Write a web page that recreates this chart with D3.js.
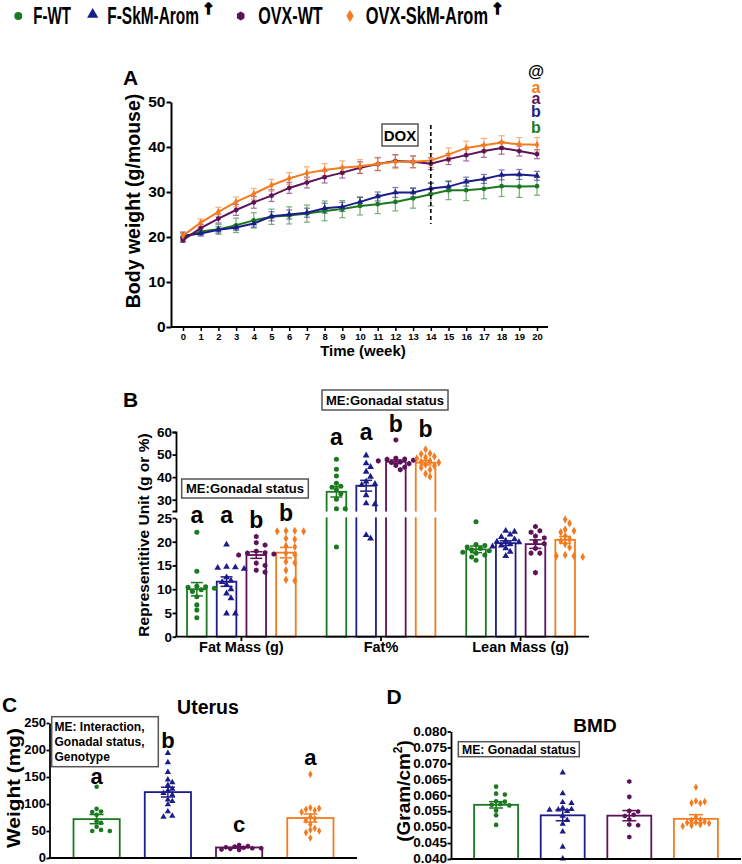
<!DOCTYPE html>
<html><head><meta charset="utf-8">
<script src="https://cdn.jsdelivr.net/npm/d3@7"></script>
<style>
body{margin:0;background:#fff}
svg text{font-family:"Liberation Sans",Arial,sans-serif;font-weight:bold}
</style></head><body>
<svg id="fig" width="742" height="864"></svg>
<script>
// ---------------- DATA ----------------
const groups = ["F-WT","F-SkM-Arom","OVX-WT","OVX-SkM-Arom"];
const colors = ["#1b7a1f","#1d1d8a","#5e1259","#f47b20"];

// Panel A: body weight (g/mouse) by week
const weeks = [0,1,2,3,4,5,6,7,8,9,10,11,12,13,14,15,16,17,18,19,20];
const bwFWT    = [19.9,21.2,21.7,22.6,23.7,24.5,24.8,25.2,25.8,26.2,26.9,27.3,27.8,28.6,29.5,30.4,30.4,30.7,31.3,31.2,31.3];
const bwFSkM   = [20.3,20.8,21.6,22.1,23.0,24.6,25.0,25.4,26.4,26.7,27.8,29.0,29.9,29.9,30.8,31.2,32.3,32.9,33.8,33.9,33.6];
const bwOVXWT  = [19.3,22.0,24.1,26.0,27.7,29.2,30.9,32.1,33.3,34.3,35.4,36.2,36.9,36.7,36.3,37.3,38.2,39.1,39.8,39.1,38.4];
const bwOVXSkM = [20.3,23.2,25.6,27.8,29.6,31.5,33.0,34.2,34.9,35.4,35.7,36.2,36.7,36.7,37.0,38.3,39.8,40.4,41.0,40.6,40.5];
const semFWT    = [0.8,0.7,1.1,1.6,1.7,1.7,1.9,1.9,2.2,1.9,2.0,2.1,2.0,2.2,2.6,2.1,2.3,2.2,2.3,2.4,2.0];
const semFSkM   = [0.8,0.6,0.7,0.6,0.8,1.0,1.0,1.0,1.1,1.0,1.0,1.0,1.1,1.0,1.1,1.1,1.0,1.0,1.1,1.1,1.0];
const semOVXWT  = [0.5,0.8,1.0,1.2,1.3,1.3,1.2,1.2,1.3,1.2,1.3,1.4,1.4,1.3,1.3,1.2,1.3,1.4,1.4,1.1,1.0];
const semOVXSkM = [0.6,0.8,1.0,1.1,1.2,1.3,1.3,1.4,1.4,1.5,1.5,1.5,1.5,1.3,1.5,1.5,1.5,1.5,1.5,1.5,1.6];
const yTicksA = [0,10,20,30,40,50];
const lettersA = ["@","a","a","b","b"];
const lettersAColor = ["#000",colors[3],colors[2],colors[1],colors[0]];
const doxWeek = 14;

// Panel B: body composition
const catsB = ["Fat Mass (g)","Fat%","Lean Mass (g)"];
const fatMassMean = [10.0,11.6,17.2,17.7];
const fatMassSEM  = [1.4,1.0,0.7,1.1];
const fatMassPts = [
  [22.0,13.8,10.5,10.4,10.2,9.9,9.5,8.4,6.7,5.6,4.0,10.6],
  [19.4,14.7,14.6,14.5,14.3,12.5,11.8,11.5,10.9,10.0,9.1,8.1,4.9,4.9],
  [21.1,19.8,19.3,18.0,17.7,17.6,17.4,17.2,15.5,15.0,14.0,13.6],
  [22.3,22.3,22.2,22.2,20.7,20.5,19.1,18.9,17.6,17.3,15.8,15.6,14.0,12.0,11.8]
];
const fatPctMean = [33.5,36.2,46.8,46.4];
const fatPctSEM  = [2.3,2.4,0.8,1.0];
const fatPctPts = [
  [47.9,43.5,40.5,37.3,36.0,35.5,34.4,32.6,30.2,26.0,26.0,18.9],
  [49.6,46.1,44.5,42.4,40.2,38.0,37.0,36.5,32.0,28.4,28.0,21.4,20.7],
  [56.5,48.4,48.0,47.9,47.5,47.2,46.8,46.5,46.0,45.2,44.4,43.3],
  [52.3,50.5,50.2,49.2,48.7,48.3,47.2,46.8,46.5,45.6,45.0,44.2,43.3,41.5,40.2]
];
const leanMean = [18.4,19.7,19.5,20.4];
const leanSEM  = [0.7,0.5,0.9,0.7];
const leanPts = [
  [24.2,19.4,19.2,18.9,18.6,18.3,18.1,17.8,17.6,17.2,16.8,16.1],
  [22.3,22.1,21.5,21.0,20.5,20.2,20.0,19.9,19.5,19.2,19.0,18.6,17.9,17.0],
  [23.2,22.3,22.0,21.2,20.8,20.0,19.6,18.6,17.6,17.6,13.5],
  [24.7,23.9,22.6,22.3,22.0,21.2,20.5,20.2,19.5,18.8,17.2,17.0,17.0,16.8]
];
const yTicksBlow = [0,5,10,15,20,25];
const yTicksBhigh = [30,40,50,60];
const lettersFatMass = ["a","a","b","b"];
const lettersFatPct  = ["a","a","b","b"];

// Panel C: uterus weight (mg)
const uterusMean = [72,122,19.5,74];
const uterusSEM  = [8.5,9,1.2,7.5];
const uterusPts = [
  [132,91,86,85,80,68,65,58,52,50,50],
  [194,177,159,145,140,135,128,125,120,117,108,105,99,86,78,76],
  [24,22,21,20,19,18,18,17,16,15],
  [155,93,92,90,88,85,76,73,70,62,55,52,50,47,37]
];
const yTicksC = [0,50,100,150,200,250];
const lettersC = ["a","b","c","a"];

// Panel D: BMD (g/cm2)
const bmdMean = [0.0570,0.0537,0.0536,0.0526];
const bmdSEM  = [0.0010,0.0017,0.0016,0.0013];
const bmdPts = [
  [0.0627,0.0605,0.0602,0.0581,0.0580,0.0572,0.0570,0.0568,0.0552,0.0537,0.0507],
  [0.0671,0.0606,0.0578,0.0575,0.0560,0.0556,0.0555,0.0554,0.0550,0.0535,0.0522,0.0510,0.0486,0.0438,0.0401],
  [0.0643,0.0595,0.0551,0.0549,0.0539,0.0535,0.0524,0.0508,0.0506,0.0469],
  [0.0625,0.0582,0.0580,0.0576,0.0575,0.0532,0.0523,0.0521,0.0517,0.0515,0.0514,0.0512,0.0508,0.0505,0.0503]
];
const yTicksD = [0.040,0.045,0.050,0.055,0.060,0.065,0.070,0.075,0.080];

// ---------------- HELPERS ----------------
const svg = d3.select("#fig");
const symHex = {draw(ctx,size){const r=Math.sqrt(size/2.598);for(let i=0;i<6;i++){const a=Math.PI/3*i+Math.PI/6;const x=r*Math.cos(a),y=r*Math.sin(a);i?ctx.lineTo(x,y):ctx.moveTo(x,y);}ctx.closePath();}};
const symbols = [d3.symbolCircle,d3.symbolTriangle,symHex,d3.symbolDiamond];
const sym = (i,size)=>d3.symbol().type(symbols[i]).size(size)();

function styleAxis(g, fs, sw){
  g.selectAll("path,line").attr("stroke","#000").attr("stroke-width",sw);
  g.selectAll("text").attr("font-size",fs).attr("font-family",'"Liberation Sans",Arial,sans-serif').attr("font-weight","bold").attr("fill","#000");
}
function txt(g,x,y,s,fs,anchor,opts={}){
  const t=g.append("text").attr("x",x).attr("y",y).attr("font-size",fs).attr("text-anchor",anchor||"start")
    .attr("fill",opts.fill||"#000").text(s);
  if(opts.len) t.attr("textLength",opts.len).attr("lengthAdjust","spacingAndGlyphs");
  return t;
}
function swarm(values, ys, r, step){
  const pts = values.map(v=>({v,y:ys(v)})).sort((a,b)=>a.y-b.y);
  const placed=[];
  for(const p of pts){
    for(let k=0;k<30;k++){
      const c = k===0?0:(k%2?1:-1)*Math.ceil(k/2)*step;
      if(placed.every(q=>Math.hypot(q.dx-c,q.y-p.y)>=2*r)){p.dx=c;break;}
    }
    placed.push(p);
  }
  return placed;
}
function box(g,x0,y0,x1,y1){
  g.append("rect").attr("x",x0).attr("y",y0).attr("width",x1-x0).attr("height",y1-y0)
   .attr("fill","#fff").attr("stroke","#555").attr("stroke-width",1.5);
}
function drawBars(g, xLeft, bw, means, ys, base){
  means.forEach((m,i)=>{
    const x0 = xLeft(i);
    g.append("rect").attr("x",x0).attr("y",ys(m)).attr("width",bw).attr("height",ys(base)-ys(m))
      .attr("fill","#fff").attr("stroke",colors[i]).attr("stroke-width",1.8);
  });
}
function drawDots(g, xLeft, bw, means, sems, pts, ys, capW, r, step, dotSize){
  means.forEach((m,i)=>{
    const cx = xLeft(i)+bw/2;
    const sw = swarm(pts[i], ys, r, step);
    g.append("g").selectAll("path").data(sw).join("path")
      .attr("d",sym(i,dotSize)).attr("fill",colors[i])
      .attr("transform",d=>`translate(${cx+d.dx},${d.y})`);
    const eb = g.append("g").attr("stroke",colors[i]).attr("stroke-width",1.5);
    const y1=ys(m-sems[i]), y2=ys(m+sems[i]);
    eb.append("line").attr("x1",cx).attr("x2",cx).attr("y1",y1).attr("y2",y2);
    [y1,y2].forEach(y=>eb.append("line").attr("x1",cx-capW/2).attr("x2",cx+capW/2).attr("y1",y).attr("y2",y));
  });
}

// ---------------- LEGEND ----------------
const legMarkX=[18.3,92.7,240.7,350], legTextX=[33.3,107.3,258.3,365.7], legTextW=[37.7,91.7,64.4,122.3];
const legSize=[50,55,50,45];
groups.forEach((gname,i)=>{
  svg.append("path").attr("d",sym(i,legSize[i])).attr("fill",colors[i]).attr("transform",`translate(${legMarkX[i]},${i===1?14.5:16})`);
  txt(svg,legTextX[i],24,gname,23,"start",{len:legTextW[i]});
  if(i%2===1){
    svg.append("text").attr("x",legTextX[i]+legTextW[i]+9.5).attr("y",14).attr("text-anchor","middle")
      .attr("font-size",15).attr("fill","#000").attr("style",'font-family:"DejaVu Sans";font-weight:bold')
      .attr("stroke","#000").attr("stroke-width",1.3).text("↑");
  }
});

// ---------------- PANEL A ----------------
const gA = svg.append("g");
txt(gA,123,85,"A",21);
const xA = d3.scaleLinear().domain([0,20]).range([183,537]);
const yA = d3.scaleLinear().domain([0,50]).range([327,102]);
const axYA = gA.append("g").attr("transform","translate(171,0)")
  .call(d3.axisLeft(yA).tickValues(yTicksA).tickSize(4.5).tickPadding(1).tickSizeOuter(0));
styleAxis(axYA,15.5,2);
const axXA = gA.append("g").attr("transform","translate(0,327)")
  .call(d3.axisBottom(xA).tickValues(weeks).tickSize(4).tickPadding(2).tickSizeOuter(0));
axXA.select(".domain").remove();
styleAxis(axXA,9.5,1.5);
gA.append("line").attr("x1",171).attr("x2",548).attr("y1",327).attr("y2",327).attr("stroke","#000").attr("stroke-width",2);
txt(gA,363,356,"Time (week)",15,"middle");
gA.append("text").attr("transform","translate(140,201) rotate(-90)").attr("text-anchor","middle").attr("font-size",19.5).attr("fill","#000").text("Body weight (g/mouse)");

const seriesA=[bwFWT,bwFSkM,bwOVXWT,bwOVXSkM], semA=[semFWT,semFSkM,semOVXWT,semOVXSkM];
seriesA.forEach((s,i)=>{
  const g=gA.append("g").attr("stroke",colors[i]).attr("stroke-width",1.2).attr("opacity",0.6);
  weeks.forEach((w,j)=>{
    const x=xA(w), y1=yA(s[j]-semA[i][j]), y2=yA(s[j]+semA[i][j]);
    g.append("line").attr("x1",x).attr("x2",x).attr("y1",y1).attr("y2",y2);
    [y1,y2].forEach(y=>g.append("line").attr("x1",x-3).attr("x2",x+3).attr("y1",y).attr("y2",y));
  });
});
seriesA.forEach((s,i)=>{
  gA.append("path").datum(s).attr("fill","none").attr("stroke",colors[i]).attr("stroke-width",2)
    .attr("d",d3.line().x((d,j)=>xA(weeks[j])).y(d=>yA(d)));
  gA.append("g").selectAll("path").data(s).join("path").attr("d",sym(i,18)).attr("fill",colors[i])
    .attr("transform",(d,j)=>`translate(${xA(weeks[j])},${yA(d)})`);
});
gA.append("line").attr("x1",xA(doxWeek)).attr("x2",xA(doxWeek)).attr("y1",125).attr("y2",224)
  .attr("stroke","#000").attr("stroke-width",1.6).attr("stroke-dasharray","4,3");
box(gA,382,124,418,146);
txt(gA,400,141,"DOX",15,"middle");
const lettersAY=[77,93,103.5,116.5,132.5];
lettersA.forEach((l,i)=>txt(gA,536,lettersAY[i],l,i===0?16.5:16,"middle",{fill:lettersAColor[i]}));

// ---------------- PANEL B ----------------
const gB = svg.append("g");
txt(gB,123,407,"B",21);
const xB = d3.scaleBand().domain(catsB).range([176,586]).paddingInner(0.221).paddingOuter(0.079);
const xBin = d3.scaleBand().domain(groups).range([0,xB.bandwidth()]).paddingInner(0.34).paddingOuter(0);
const yBlo = d3.scaleLinear().domain([0,25]).range([636.7,518]);
const yBhi = d3.scaleLinear().domain([25,60]).range([511,432]);
const yB = v => v<=25 ? yBlo(v) : yBhi(v);
const bwB = xBin.bandwidth();
const setsB = [[fatMassMean,fatMassSEM,fatMassPts],[fatPctMean,fatPctSEM,fatPctPts],[leanMean,leanSEM,leanPts]];
setsB.forEach((s,c)=>drawBars(gB,i=>xB(catsB[c])+xBin(groups[i]),bwB,s[0],yB,0));
gB.append("rect").attr("x",178).attr("y",511.6).attr("width",420).attr("height",5.8).attr("fill","#fff");
setsB.forEach((s,c)=>drawDots(gB,i=>xB(catsB[c])+xBin(groups[i]),bwB,s[0],s[1],s[2],yB,12,2.5,4.4,20));
const axBlo = gB.append("g").attr("transform","translate(176,0)")
  .call(d3.axisLeft(yBlo).tickValues(yTicksBlow).tickSize(3.5).tickPadding(0.5).tickSizeOuter(0));
styleAxis(axBlo,13.5,1.8);
const axBhi = gB.append("g").attr("transform","translate(176,0)")
  .call(d3.axisLeft(yBhi).tickValues(yTicksBhigh).tickSize(3.5).tickPadding(0.5).tickSizeOuter(3.5));
styleAxis(axBhi,13.5,1.8);
gB.append("line").attr("x1",175).attr("x2",589).attr("y1",636.7).attr("y2",636.7).attr("stroke","#000").attr("stroke-width",1.8);
catsB.forEach(c=>{
  const cx = xB(c)+xB.bandwidth()/2;
  gB.append("line").attr("x1",cx).attr("x2",cx).attr("y1",636.7).attr("y2",641).attr("stroke","#000").attr("stroke-width",1.8);
  txt(gB,cx,652,c,14.5,"middle");
});
gB.append("text").attr("transform","translate(148.5,535) rotate(-90)").attr("text-anchor","middle").attr("font-size",15.5).attr("fill","#000").text("Representitive Unit (g or %)");
box(gB,181.7,479,308.3,498); txt(gB,245,493,"ME:Gonadal status",13,"middle",{len:118});
box(gB,322,390,448,410); txt(gB,385,405,"ME:Gonadal status",13,"middle",{len:118});
const letterValFatMass=[23.9,23.9,22.9,24.4];
const letterValFatPct=[54.2,56.5,60.1,57.9];
lettersFatMass.forEach((l,i)=>txt(gB,xB(catsB[0])+xBin(groups[i])+bwB/2,yB(letterValFatMass[i]),l,23,"middle"));
lettersFatPct.forEach((l,i)=>txt(gB,xB(catsB[1])+xBin(groups[i])+bwB/2,yB(letterValFatPct[i]),l,23,"middle"));

// ---------------- PANEL C ----------------
const gC = svg.append("g");
txt(gC,2,711.5,"C",21);
txt(gC,208,714,"Uterus",19.5,"middle");
const xC = d3.scaleBand().domain(groups).range([50,357]).paddingInner(0.351).paddingOuter(0.33);
const yC = d3.scaleLinear().domain([0,250]).range([858,723]);
drawBars(gC,i=>xC(groups[i]),xC.bandwidth(),uterusMean,yC,0);
drawDots(gC,i=>xC(groups[i]),xC.bandwidth(),uterusMean,uterusSEM,uterusPts,yC,14,2.3,4.4,17);
const axC = gC.append("g").attr("transform","translate(49.5,0)")
  .call(d3.axisLeft(yC).tickValues(yTicksC).tickSize(3).tickPadding(0.5).tickSizeOuter(0));
styleAxis(axC,13,1.8);
axC.selectAll(".tick text").attr("dy","0.28em");
gC.append("line").attr("x1",48.6).attr("x2",357).attr("y1",858).attr("y2",858).attr("stroke","#000").attr("stroke-width",1.8);
gC.append("text").attr("transform","translate(20,788) rotate(-90)").attr("text-anchor","middle").attr("font-size",19).attr("fill","#000").attr("textLength",120).attr("lengthAdjust","spacingAndGlyphs").text("Weight (mg)");
box(gC,51.7,716.7,158.3,766.7);
["ME: Interaction,","Gonadal status,","Genotype"].forEach((s,k)=>txt(gC,54.5,730.5+k*15,s,12));
const letterValC=[137.6,204,47.8,171.9];
lettersC.forEach((l,i)=>txt(gC,xC(groups[i])+xC.bandwidth()/2,yC(letterValC[i]),l,22,"middle"));

// ---------------- PANEL D ----------------
const gD = svg.append("g");
txt(gD,386.5,703.5,"D",21);
txt(gD,595,731.5,"BMD",19,"middle");
const xD = d3.scaleBand().domain(groups).range([451,741]).paddingInner(0.34).paddingOuter(0.347);
const yD = d3.scaleLinear().domain([0.040,0.080]).range([859,731.5]);
drawBars(gD,i=>xD(groups[i]),xD.bandwidth(),bmdMean,yD,0.040);
drawDots(gD,i=>xD(groups[i]),xD.bandwidth(),bmdMean,bmdSEM,bmdPts,yD,14,2.3,4.4,17);
const axD = gD.append("g").attr("transform","translate(451,0)")
  .call(d3.axisLeft(yD).tickValues(yTicksD).tickFormat(d3.format(".3f")).tickSize(3.5).tickPadding(0.5).tickSizeOuter(0));
styleAxis(axD,13.5,1.8);
axD.selectAll(".tick text").attr("dy","0.28em");
gD.append("line").attr("x1",450).attr("x2",741).attr("y1",859).attr("y2",859).attr("stroke","#000").attr("stroke-width",1.8);
const tD = gD.append("text").attr("transform","translate(410,791) rotate(-90)").attr("text-anchor","middle").attr("font-size",19).attr("fill","#000");
tD.append("tspan").text("(Gram/cm");
tD.append("tspan").attr("font-size",12).attr("dy",-8).text("2");
tD.append("tspan").attr("dy",8).text(")");
box(gD,458.3,741.7,579.3,756.7);
txt(gD,462,753.5,"ME: Gonadal status",12.2,"start",{len:114});
</script>
</body></html>
